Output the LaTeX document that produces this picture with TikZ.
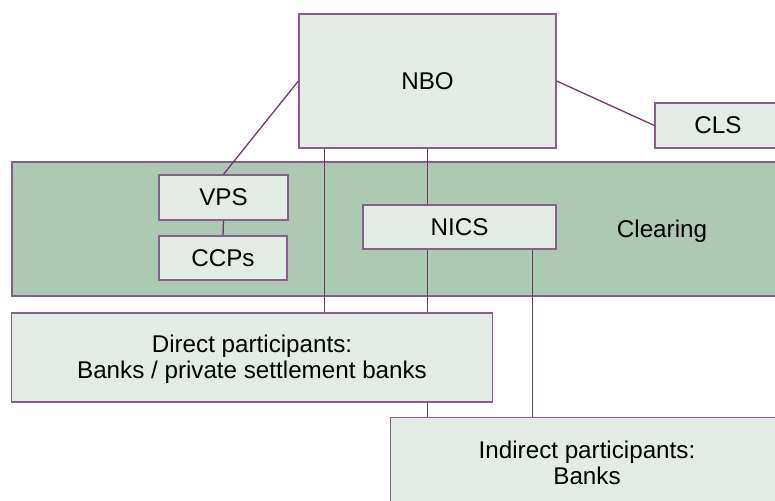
\documentclass[tikz,border=0pt]{standalone}
\usepackage{fontspec}
\setmainfont{Liberation Sans}
\definecolor{boxfill}{RGB}{226,235,228}
\definecolor{bandfill}{RGB}{173,201,179}
\definecolor{boxline}{RGB}{135,95,138}
\definecolor{conn}{RGB}{110,58,110}
\tikzset{
  lbox/.style={draw=boxline, fill=boxfill, line width=1.3pt, rectangle, inner sep=0pt, align=center,
     font=\fontsize{24.2pt}{26pt}\selectfont},
  bandbox/.style={draw=boxline, fill=bandfill, line width=1.3pt, rectangle, inner sep=0pt},
  conline/.style={draw=conn, line width=1.3pt},
  lbl/.style={font=\fontsize{24.2pt}{26pt}\selectfont, inner sep=0pt}
}
\begin{document}
\begin{tikzpicture}[x=1pt,y=-1pt]
\clip (0,0) rectangle (775,500);
\fill[white] (0,0) rectangle (775,500);
% band
\node[bandbox, minimum width=788pt, minimum height=134pt] (band) at (406,229) {};
\node[lbl] (clearing) at (662,231) {Clearing};
% boxes
\node[lbox, minimum width=257pt, minimum height=134pt] (nbo) at (427.5,81) {NBO};
\node[lbox, minimum width=126pt, minimum height=45pt] (cls) at (718,125.5) {CLS};
\node[lbox, minimum width=129pt, minimum height=45pt] (vps) at (223.5,197.5) {VPS};
\node[lbox, minimum width=128pt, minimum height=44pt] (ccps) at (223,258) {CCPs};
\node[lbox, minimum width=193pt, minimum height=44pt] (nics) at (459.5,227) {NICS};
\node[lbox, minimum width=480.5pt, minimum height=89pt] (direct) at (252,357.5) {};
\node[lbl, align=center] (dirtext) at (252,359) {Direct participants:\\Banks / private settlement banks};
\node[lbox, minimum width=394pt, minimum height=89pt, anchor=north west] (indirect) at (390,417) {};
\node[lbl, align=center] (indtext) at (587,463) {Indirect participants:\\Banks};
% connectors
\draw[conline] (nbo.west) -- (vps.north);
\draw[conline] (vps.south) -- (ccps.north);
\draw[conline] (nbo.east) -- (cls.west);
\draw[conline] ([xshift=26pt]nbo.south west) coordinate (a) -- (a |- direct.north);
\draw[conline] (nbo.south) -- (nbo.south |- nics.north);
\draw[conline] (nbo.south |- nics.south) -- (nbo.south |- direct.north);
\draw[conline] (nbo.south |- direct.south) -- (nbo.south |- indirect.north);
\draw[conline] ([xshift=-24.5pt]nics.south east) coordinate (b) -- (b |- indirect.north);
\end{tikzpicture}
\end{document}
